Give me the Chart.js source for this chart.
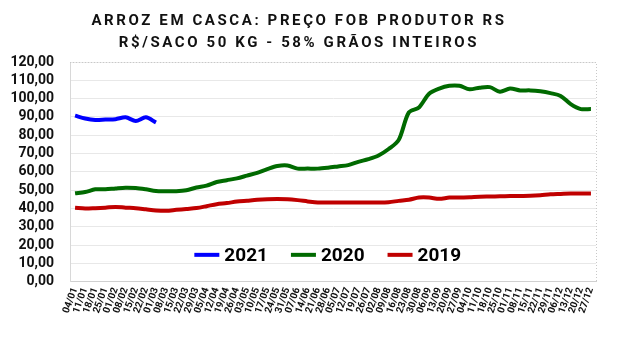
<!DOCTYPE html>
<html>
<head>
<meta charset="utf-8">
<script src="https://cdn.jsdelivr.net/npm/chart.js@4/dist/chart.umd.min.js"></script>
<style>
  html, body { margin: 0; padding: 0; background: #fff; }
  #wrap { width: 624px; height: 339px; }
</style>
</head>
<body>
<div id="wrap"><canvas id="arrozChart" width="624" height="339"></canvas></div>
<script>
const titleLines = ["ARROZ EM CASCA: PREÇO FOB PRODUTOR RS", "R$/SACO 50 KG - 58% GRÃOS INTEIROS"];

const weeks = [
  "04/01", "11/01", "18/01", "25/01", "01/02", "08/02", "15/02", "22/02", "01/03", "08/03",
  "15/03", "22/03", "29/03", "05/04", "12/04", "19/04", "26/04", "03/05", "10/05", "17/05",
  "24/05", "31/05", "07/06", "14/06", "21/06", "28/06", "05/07", "12/07", "19/07", "26/07",
  "02/08", "09/08", "16/08", "23/08", "30/08", "06/09", "13/09", "20/09", "27/09", "04/10",
  "11/10", "18/10", "25/10", "01/11", "08/11", "15/11", "22/11", "29/11", "06/12", "13/12",
  "20/12", "27/12"
];

const seriesNames = ["2021", "2020", "2019"];
const seriesColors = ["#0000ff", "#006a00", "#c00000"];

const price2021 = [90.7, 89.2, 88.4, 88.6, 88.8, 89.8, 87.8, 89.8, 87.0];

const price2020 = [
  48.3, 49.0, 50.5, 50.5, 51.0, 51.4, 51.2, 50.5, 49.6, 49.5,
  49.5, 50.0, 51.5, 52.5, 54.5, 55.5, 56.5, 58.0, 59.5, 61.5,
  63.2, 63.5, 61.8, 61.8, 61.8, 62.3, 63.0, 63.7, 65.5, 67.0,
  69.0, 72.5, 77.5, 92.5, 95.2, 102.7, 105.5, 107.0, 107.0, 105.1,
  106.0, 106.3, 103.8, 105.5, 104.5, 104.5, 104.0, 103.0, 101.5, 97.0,
  94.3, 94.3
];

const price2019 = [
  40.4, 40.0, 40.2, 40.5, 40.9, 40.5, 40.2, 39.6, 39.0, 38.8,
  39.3, 39.8, 40.3, 41.3, 42.4, 43.0, 43.8, 44.3, 44.8, 45.1,
  45.2, 45.1, 44.6, 43.9, 43.3, 43.3, 43.3, 43.3, 43.3, 43.3,
  43.3, 43.5, 44.2, 44.8, 46.0, 46.0, 45.3, 46.0, 46.0, 46.2,
  46.5, 46.6, 46.7, 46.8, 46.9, 47.0, 47.3, 47.8, 48.0, 48.2,
  48.2, 48.2
];

// title drawn by hand so it can have letter spacing
const spacedTitle = {
  id: "spacedTitle",
  afterDraw(chart) {
    const ctx = chart.ctx;
    ctx.save();
    ctx.font = "bold 15px Roboto";
    ctx.fillStyle = "#111";
    ctx.textAlign = "center";
    ctx.textBaseline = "middle";
    if ("letterSpacing" in ctx) ctx.letterSpacing = "2.6px";
    const cx = 299;
    titleLines.forEach((t, i) => ctx.fillText(t, cx, 21 + i * 22));
    ctx.restore();
  }
};

// legend sits inside the plot area, like the spreadsheet one
const innerLegend = {
  id: "innerLegend",
  afterDatasetsDraw(chart) {
    const ctx = chart.ctx;
    const area = chart.chartArea;
    ctx.save();
    ctx.font = "bold 19px Roboto";
    ctx.textBaseline = "middle";
    const items = chart.data.datasets.map(ds => ({
      text: ds.label,
      color: ds.borderColor,
      w: 25 + 5 + ctx.measureText(ds.label).width
    }));
    const gap = 23;
    const total = items.reduce((s, it) => s + it.w, 0) + gap * (items.length - 1);
    let x = area.left + (area.right - area.left) * 0.49 - total / 2;
    const y = area.bottom - 27;
    items.forEach(it => {
      ctx.strokeStyle = it.color;
      ctx.lineWidth = 4;
      ctx.beginPath();
      ctx.moveTo(x, y);
      ctx.lineTo(x + 25, y);
      ctx.stroke();
      ctx.fillStyle = "#000";
      ctx.fillText(it.text, x + 30, y + 1);
      x += it.w + gap;
    });
    ctx.restore();
  }
};

// dotted frame on top and right of the plot
const plotFrame = {
  id: "plotFrame",
  beforeDatasetsDraw(chart) {
    const ctx = chart.ctx;
    const a = chart.chartArea;
    ctx.save();
    ctx.strokeStyle = "#c8c8c8";
    ctx.lineWidth = 1;
    ctx.setLineDash([1, 2]);
    ctx.beginPath();
    ctx.moveTo(a.left, a.top + 0.5);
    ctx.lineTo(a.right + 0.5, a.top + 0.5);
    ctx.lineTo(a.right + 0.5, a.bottom);
    ctx.stroke();
    ctx.restore();
  }
};

const lineDefaults = { borderWidth: 4, pointRadius: 0, tension: 0.3, fill: false };

new Chart("arrozChart", {
  type: "line",
  data: {
    labels: weeks,
    datasets: [
      { label: seriesNames[0], data: price2021, borderColor: seriesColors[0], ...lineDefaults },
      { label: seriesNames[1], data: price2020, borderColor: seriesColors[1], ...lineDefaults },
      { label: seriesNames[2], data: price2019, borderColor: seriesColors[2], ...lineDefaults }
    ]
  },
  options: {
    responsive: false,
    animation: false,
    layout: { padding: { left: 9, right: 28, top: 62, bottom: 20 } },
    plugins: {
      legend: { display: false },
      title: { display: false },
      tooltip: { enabled: false }
    },
    scales: {
      x: {
        offset: true,
        grid: { display: false, drawTicks: false },
        border: { display: true, color: "#d0d0d0", width: 1 },
        ticks: {
          autoSkip: false,
          minRotation: 70,
          maxRotation: 70,
          padding: 4,
          color: "#111",
          font: { family: "Roboto", size: 10, weight: "bold" }
        }
      },
      y: {
        min: 0,
        max: 120,
        afterFit: scale => { scale.width = 61; },
        grid: { color: "#e8e8e8", drawTicks: false },
        border: { display: true, color: "#d8d8d8" },
        ticks: {
          stepSize: 10,
          autoSkip: false,
          padding: 16,
          color: "#111",
          font: { family: "Roboto", size: 14, weight: "bold" },
          callback: v => v.toFixed(2).replace(".", ",")
        }
      }
    }
  },
  plugins: [plotFrame, innerLegend, spacedTitle]
});
</script>
</body>
</html>
